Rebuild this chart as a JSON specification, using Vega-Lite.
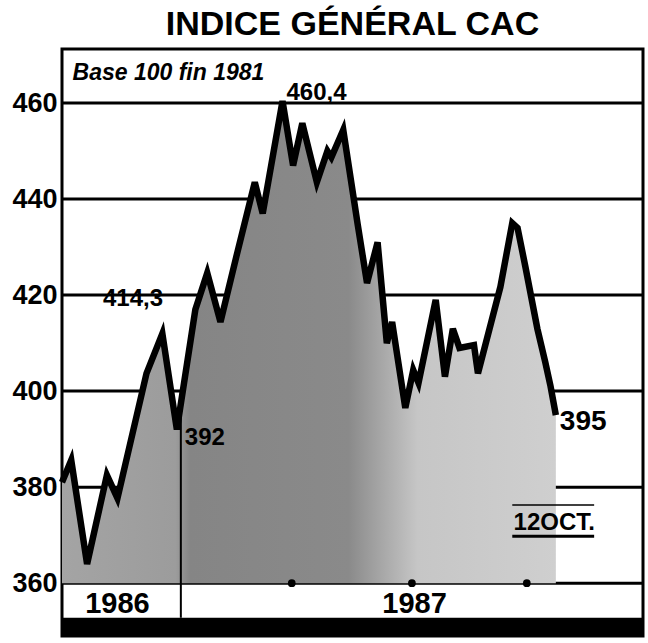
{
  "$schema": "https://vega.github.io/schema/vega-lite/v6.json",
  "width": 581,
  "height": 587,
  "autosize": {"type": "none"},
  "padding": {"left": 62, "top": 49, "right": 5, "bottom": 7},
  "background": "white",
  "title": {"text": "INDICE GÉNÉRAL CAC", "font": "Liberation Sans", "fontSize": 34, "fontWeight": "bold", "color": "black", "anchor": "middle", "baseline": "alphabetic", "offset": 5, "dy": 25},
  "config": {
    "view": {"stroke": "black", "strokeWidth": 3},
    "axisY": {"grid": false, "domain": false, "ticks": false, "labelFont": "Liberation Sans", "labelFontWeight": "bold", "labelFontSize": 27, "labelColor": "black", "labelPadding": 5}
  },
  "datasets": {
    "cac": [
      {"date": "1986-10-03", "value": 381},
      {"date": "1986-10-10", "value": 385.6},
      {"date": "1986-10-22", "value": 364},
      {"date": "1986-11-06", "value": 382.5},
      {"date": "1986-11-14", "value": 377.7},
      {"date": "1986-12-06", "value": 403.7},
      {"date": "1986-12-18", "value": 412},
      {"date": "1986-12-29", "value": 392},
      {"date": "1987-01-12", "value": 417},
      {"date": "1987-01-21", "value": 424.6},
      {"date": "1987-01-31", "value": 414.4},
      {"date": "1987-02-12", "value": 428},
      {"date": "1987-02-26", "value": 443.5},
      {"date": "1987-03-04", "value": 437},
      {"date": "1987-03-19", "value": 460.4},
      {"date": "1987-03-27", "value": 447},
      {"date": "1987-04-03", "value": 455.8},
      {"date": "1987-04-14", "value": 443.5},
      {"date": "1987-04-22", "value": 450},
      {"date": "1987-04-25", "value": 448.7},
      {"date": "1987-05-04", "value": 454.4},
      {"date": "1987-05-15", "value": 434.6},
      {"date": "1987-05-22", "value": 422.5},
      {"date": "1987-05-30", "value": 431},
      {"date": "1987-06-06", "value": 410},
      {"date": "1987-06-10", "value": 414.4},
      {"date": "1987-06-20", "value": 396.5},
      {"date": "1987-06-26", "value": 404.4},
      {"date": "1987-06-30", "value": 401.7},
      {"date": "1987-07-13", "value": 419},
      {"date": "1987-07-20", "value": 403},
      {"date": "1987-07-26", "value": 413},
      {"date": "1987-07-31", "value": 409},
      {"date": "1987-08-11", "value": 409.6},
      {"date": "1987-08-14", "value": 403.7},
      {"date": "1987-08-31", "value": 421.7},
      {"date": "1987-09-09", "value": 435},
      {"date": "1987-09-13", "value": 434},
      {"date": "1987-09-19", "value": 425.8},
      {"date": "1987-09-28", "value": 413},
      {"date": "1987-10-04", "value": 406},
      {"date": "1987-10-08", "value": 401},
      {"date": "1987-10-12", "value": 395}
    ]
  },
  "layer": [
    {
      "data": {"values": [{"value": 360}, {"value": 380}, {"value": 400}, {"value": 420}, {"value": 440}, {"value": 460}]},
      "mark": {"type": "rule", "strokeWidth": 3, "color": "black"},
      "encoding": {
        "y": {"field": "value", "type": "quantitative", "title": null, "scale": {"domain": [349, 471.25], "nice": false, "zero": false}, "axis": {"values": [360, 380, 400, 420, 440, 460]}}
      }
    },
    {
      "data": {"name": "cac"},
      "mark": {"type": "area", "fill": {"gradient": "linear", "x1": 0, "y1": 0, "x2": 1, "y2": 0, "stops": [{"offset": 0, "color": "#a4a4a4"}, {"offset": 0.23, "color": "#9c9c9c"}, {"offset": 0.26, "color": "#858585"}, {"offset": 0.58, "color": "#8a8a8a"}, {"offset": 0.72, "color": "#c6c6c6"}, {"offset": 1, "color": "#cfcfcf"}]}},
      "encoding": {
        "x": {"field": "date", "type": "temporal", "axis": null, "scale": {"domain": ["1986-10-03", "1987-12-17"], "nice": false}},
        "y": {"field": "value", "type": "quantitative", "title": null, "scale": {"domain": [349, 471.25], "nice": false, "zero": false}},
        "y2": {"datum": 360}
      }
    },
    {
      "data": {"name": "cac"},
      "mark": {"type": "line", "color": "black", "strokeWidth": 6.5, "strokeJoin": "miter"},
      "encoding": {
        "x": {"field": "date", "type": "temporal", "axis": null, "scale": {"domain": ["1986-10-03", "1987-12-17"], "nice": false}},
        "y": {"field": "value", "type": "quantitative", "title": null, "scale": {"domain": [349, 471.25], "nice": false, "zero": false}}
      }
    },
    {
      "data": {"values": [{"date": "1987-01-01", "value": 400, "value2": 352.8}]},
      "mark": {"type": "rule", "strokeWidth": 2, "color": "black"},
      "encoding": {
        "x": {"field": "date", "type": "temporal", "axis": null, "scale": {"domain": ["1986-10-03", "1987-12-17"], "nice": false}},
        "y": {"field": "value", "type": "quantitative", "title": null, "scale": {"domain": [349, 471.25], "nice": false, "zero": false}},
        "y2": {"field": "value2"}
      }
    },
    {
      "data": {"values": [{"value": 352.8, "value2": 349}]},
      "mark": {"type": "rect", "color": "black"},
      "encoding": {
        "y": {"field": "value", "type": "quantitative", "title": null, "scale": {"domain": [349, 471.25], "nice": false, "zero": false}},
        "y2": {"field": "value2"}
      }
    },
    {
      "data": {"values": [{"date": "1987-03-26", "value": 360}, {"date": "1987-06-25", "value": 360}, {"date": "1987-09-20", "value": 360}]},
      "mark": {"type": "point", "filled": true, "size": 60, "color": "black", "opacity": 1},
      "encoding": {
        "x": {"field": "date", "type": "temporal", "axis": null, "scale": {"domain": ["1986-10-03", "1987-12-17"], "nice": false}},
        "y": {"field": "value", "type": "quantitative", "title": null, "scale": {"domain": [349, 471.25], "nice": false, "zero": false}}
      }
    },
    {
      "data": {"values": [{"date": "1987-09-09", "date2": "1987-11-10", "value": 369.8}]},
      "mark": {"type": "rule", "strokeWidth": 3, "color": "black"},
      "encoding": {
        "x": {"field": "date", "type": "temporal", "axis": null, "scale": {"domain": ["1986-10-03", "1987-12-17"], "nice": false}},
        "x2": {"field": "date2"},
        "y": {"field": "value", "type": "quantitative", "title": null, "scale": {"domain": [349, 471.25], "nice": false, "zero": false}}
      }
    },
    {
      "data": {"values": [{"date": "1987-09-09", "date2": "1987-11-10", "value": 376.3}]},
      "mark": {"type": "rule", "strokeWidth": 1.5, "color": "black"},
      "encoding": {
        "x": {"field": "date", "type": "temporal", "axis": null, "scale": {"domain": ["1986-10-03", "1987-12-17"], "nice": false}},
        "x2": {"field": "date2"},
        "y": {"field": "value", "type": "quantitative", "title": null, "scale": {"domain": [349, 471.25], "nice": false, "zero": false}}
      }
    },
    {
      "data": {"values": [{"label": "Base 100 fin 1981", "date": "1986-10-11", "value": 464.8}]},
      "mark": {"type": "text", "align": "left", "baseline": "alphabetic", "font": "Liberation Sans", "fontSize": 23, "fontWeight": "bold", "fontStyle": "italic", "color": "black"},
      "encoding": {
        "x": {"field": "date", "type": "temporal", "axis": null, "scale": {"domain": ["1986-10-03", "1987-12-17"], "nice": false}},
        "y": {"field": "value", "type": "quantitative", "title": null, "scale": {"domain": [349, 471.25], "nice": false, "zero": false}},
        "text": {"field": "label"}
      }
    },
    {
      "data": {"values": [{"label": "460,4", "date": "1987-03-22", "value": 460.6}, {"label": "414,3", "date": "1986-11-03", "value": 417.7}, {"label": "392", "date": "1987-01-04", "value": 388.75}]},
      "mark": {"type": "text", "align": "left", "baseline": "alphabetic", "font": "Liberation Sans", "fontSize": 24, "fontWeight": "bold", "color": "black"},
      "encoding": {
        "x": {"field": "date", "type": "temporal", "axis": null, "scale": {"domain": ["1986-10-03", "1987-12-17"], "nice": false}},
        "y": {"field": "value", "type": "quantitative", "title": null, "scale": {"domain": [349, 471.25], "nice": false, "zero": false}},
        "text": {"field": "label"}
      }
    },
    {
      "data": {"values": [{"label": "395", "date": "1987-10-15", "value": 391.9}]},
      "mark": {"type": "text", "align": "left", "baseline": "alphabetic", "font": "Liberation Sans", "fontSize": 28, "fontWeight": "bold", "color": "black"},
      "encoding": {
        "x": {"field": "date", "type": "temporal", "axis": null, "scale": {"domain": ["1986-10-03", "1987-12-17"], "nice": false}},
        "y": {"field": "value", "type": "quantitative", "title": null, "scale": {"domain": [349, 471.25], "nice": false, "zero": false}},
        "text": {"field": "label"}
      }
    },
    {
      "data": {"values": [{"label": "12OCT.", "date": "1987-09-10", "value": 371}]},
      "mark": {"type": "text", "align": "left", "baseline": "alphabetic", "font": "Liberation Sans", "fontSize": 24, "fontWeight": "bold", "color": "black"},
      "encoding": {
        "x": {"field": "date", "type": "temporal", "axis": null, "scale": {"domain": ["1986-10-03", "1987-12-17"], "nice": false}},
        "y": {"field": "value", "type": "quantitative", "title": null, "scale": {"domain": [349, 471.25], "nice": false, "zero": false}},
        "text": {"field": "label"}
      }
    },
    {
      "data": {"values": [{"label": "1986", "date": "1986-11-14", "value": 353.75}, {"label": "1987", "date": "1987-06-27", "value": 353.75}]},
      "mark": {"type": "text", "align": "center", "baseline": "alphabetic", "font": "Liberation Sans", "fontSize": 29, "fontWeight": "bold", "color": "black"},
      "encoding": {
        "x": {"field": "date", "type": "temporal", "axis": null, "scale": {"domain": ["1986-10-03", "1987-12-17"], "nice": false}},
        "y": {"field": "value", "type": "quantitative", "title": null, "scale": {"domain": [349, 471.25], "nice": false, "zero": false}},
        "text": {"field": "label"}
      }
    }
  ]
}
